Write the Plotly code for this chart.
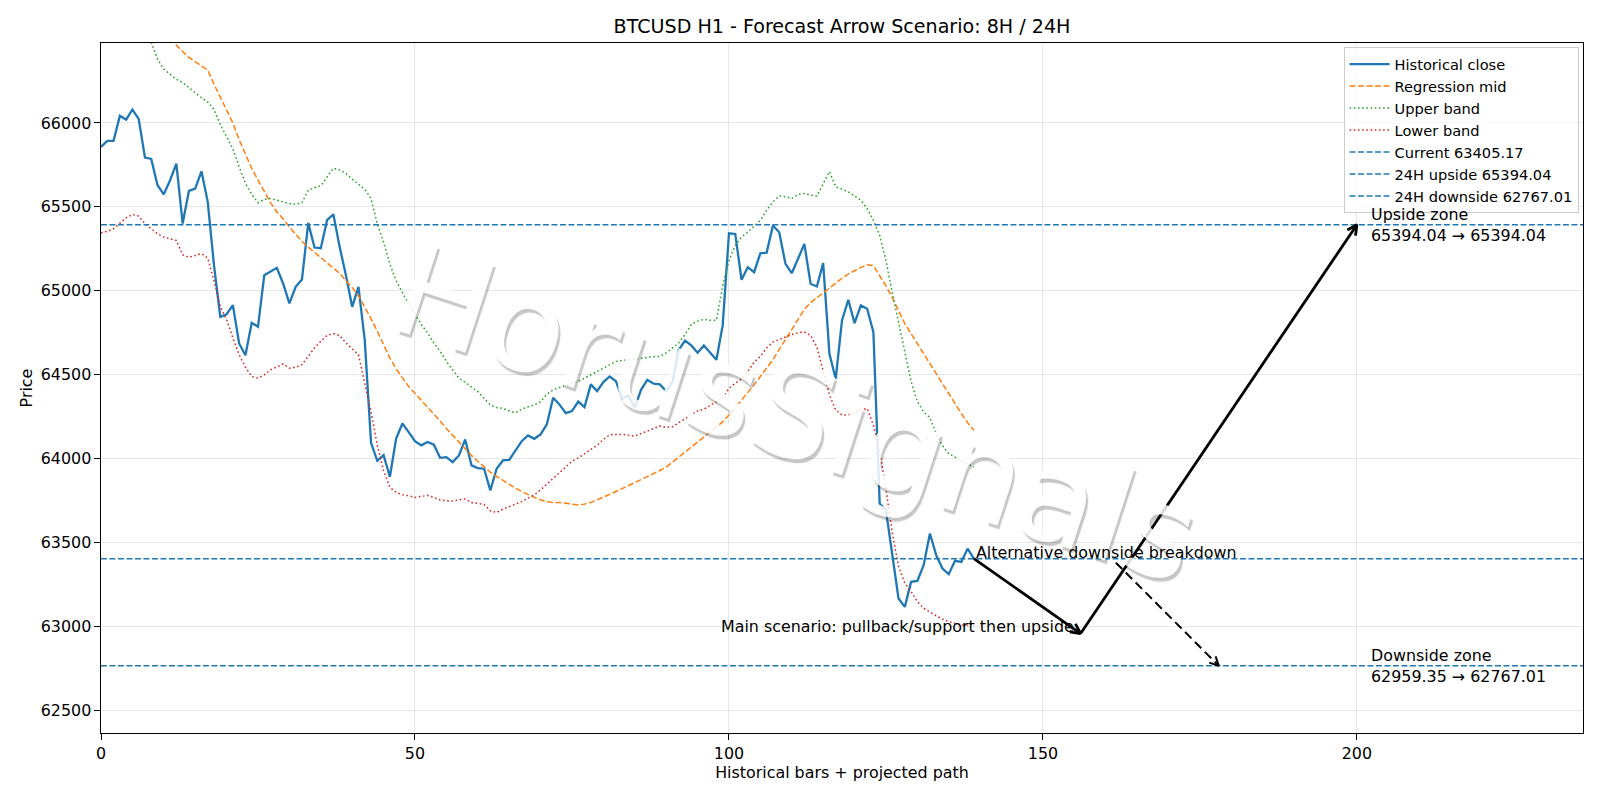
import math
import plotly.graph_objects as go

# ---------------- data ----------------
close = [65857, 65893, 65893, 66042, 66020, 66080, 66024, 65794, 65786, 65629,
         65575, 65659, 65758, 65401, 65595, 65609, 65712, 65530, 65150, 64845,
         64861, 64915, 64687, 64617, 64810, 64786, 65093, 65113, 65137, 65044,
         64925, 65024, 65067, 65405, 65258, 65254, 65421, 65456, 65262, 65093,
         64905, 65024, 64706, 64095, 63988, 64022, 63893, 64121, 64210, 64159,
         64105, 64080, 64100, 64084, 64006, 64010, 63980, 64020, 64115, 63961,
         63945, 63941, 63812, 63941, 63990, 63994, 64050, 64105, 64139, 64119,
         64145, 64205, 64363, 64324, 64272, 64284, 64341, 64308, 64443, 64403,
         64457, 64490, 64462, 64357, 64377, 64304, 64411, 64470, 64447, 64443,
         64403, 64457, 64649, 64704, 64675, 64632, 64675, 64635, 64590, 64794,
         65343, 65339, 65066, 65141, 65111, 65224, 65228, 65389, 65349, 65161,
         65105, 65191, 65280, 65042, 65026, 65165, 64625, 64477, 64824, 64947,
         64808, 64913, 64893, 64754, 63733, 63693, 63436, 63168, 63118, 63267,
         63273, 63366, 63555, 63426, 63346, 63313, 63392, 63386, 63465, 63405.17]

mid_start = 10
mid = [66540, 66500, 66460, 66425, 66390, 66365, 66340, 66315, 66230, 66150,
       66070, 66000, 65900, 65810, 65730, 65660, 65590, 65525, 65470, 65430,
       65380, 65335, 65295, 65260, 65230, 65200, 65170, 65135, 65105, 65060,
       65020, 64970, 64905, 64835, 64760, 64680, 64600, 64535, 64480, 64430,
       64390, 64350, 64310, 64270, 64225, 64180, 64140, 64100, 64055, 64020,
       63985, 63950, 63920, 63895, 63870, 63845, 63825, 63805, 63785, 63770,
       63755, 63745, 63740, 63740, 63735, 63728, 63725, 63730, 63740, 63755,
       63770, 63788, 63805, 63822, 63840, 63858, 63875, 63893, 63912, 63930,
       63950, 63980, 64010, 64040, 64070, 64100, 64130, 64160, 64190, 64220,
       64260, 64305, 64345, 64390, 64440, 64490, 64540, 64590, 64650, 64710,
       64770, 64830, 64890, 64930, 64960, 64985, 65015, 65045, 65075, 65100,
       65122, 65140, 65155, 65150, 65090, 65030, 64960, 64880, 64805, 64745,
       64685, 64625, 64570, 64510, 64450, 64390, 64330, 64270, 64215, 64170]

upper_start = 8
upper = [66480, 66380, 66320, 66290, 66260, 66240, 66210, 66175, 66150, 66125,
         66080, 65990, 65920, 65845, 65740, 65640, 65575, 65525, 65545, 65550,
         65540, 65530, 65520, 65515, 65525, 65600, 65615, 65625, 65680, 65730,
         65720, 65700, 65665, 65635, 65605, 65550, 65400, 65290, 65160, 65060,
         64990, 64920, 64860, 64800, 64750, 64690, 64640, 64580, 64530, 64480,
         64455, 64425, 64400, 64360, 64320, 64305, 64300, 64285, 64274, 64295,
         64310, 64320, 64340, 64385, 64410, 64425, 64435, 64450, 64462, 64480,
         64500, 64520, 64545, 64565, 64580, 64585, 64590, 64595, 64600, 64605,
         64608, 64610, 64630, 64660, 64690, 64740, 64800, 64820, 64830, 64825,
         64825, 65030, 65180, 65270, 65320, 65350, 65385, 65420, 65480, 65530,
         65565, 65560, 65550, 65575, 65580, 65570, 65565, 65640, 65710, 65620,
         65605, 65590, 65565, 65540, 65490, 65420, 65330, 65180, 64990, 64810,
         64630, 64460, 64340, 64280, 64245, 64150, 64080, 64030, 64010, 63990,
         63970, 63950]

lower = [65345, 65355, 65370, 65400, 65435, 65455, 65445, 65400, 65370, 65340,
         65320, 65310, 65300, 65215, 65200, 65210, 65222, 65195, 65060, 64905,
         64830, 64720, 64620, 64545, 64490, 64480, 64500, 64530, 64550, 64565,
         64540, 64545, 64560, 64610, 64660, 64700, 64735, 64745, 64735, 64690,
         64655, 64620, 64450, 64280, 64080, 63930, 63830, 63800, 63785, 63780,
         63770, 63775, 63782, 63770, 63755, 63750, 63748, 63755, 63760, 63740,
         63732, 63728, 63690, 63680, 63700, 63715, 63730, 63745, 63765, 63785,
         63815, 63850, 63885, 63915, 63950, 63985, 64005, 64030, 64055, 64080,
         64115, 64143, 64145, 64145, 64140, 64135, 64150, 64165, 64180, 64195,
         64188, 64190, 64215, 64240, 64265, 64285, 64295, 64320, 64340, 64360,
         64420, 64450, 64475, 64520, 64575, 64610, 64660, 64695, 64712, 64725,
         64740, 64750, 64755, 64735, 64665, 64520, 64380, 64290, 64260, 64262,
         64270, 64290, 64300, 64200, 64050, 63820, 63560, 63360, 63260, 63210,
         63150, 63110, 63085, 63065, 63045, 63030, 63020, 63010, 63010, 63020]

current = 63405.17
up_target = 65394.04
down_target = 62767.01
pullback = 62959.35
pivot_bar = 156
up_bar = 200
alt_bar = 178
zone_label_bar = 202

x_ticks = [0, 50, 100, 150, 200]
y_ticks = [62500, 63000, 63500, 64000, 64500, 65000, 65500, 66000]

# ---------------- layout constants ----------------
W, H = 1600, 800
ML, MR, MT, MB = 101, 17, 43, 67
X_RANGE = [0, 236]
Y_RANGE = [62367, 66476]
SX = (W - ML - MR) / (X_RANGE[1] - X_RANGE[0])
SY = (H - MT - MB) / (Y_RANGE[1] - Y_RANGE[0])

BLUE, ORANGE, GREEN, RED = "#1f77b4", "#ff7f0e", "#2ca02c", "#d62728"
FONT = "DejaVu Sans"
FS = 15.9
LEG_FS = 14.6
DASH = "5.9px,2.6px"
DOT = "1.6px,2.6px"


def arrow_head(x0, y0, x1, y1, length=11, ang=26.6):
    dx, dy = (x1 - x0) * SX, (y1 - y0) * SY
    n = math.hypot(dx, dy)
    ux, uy = -dx / n, -dy / n
    xs, ys = [], []
    for s in (1, -1):
        a = math.radians(s * ang)
        wx = ux * math.cos(a) - uy * math.sin(a)
        wy = ux * math.sin(a) + uy * math.cos(a)
        xs.append(x1 + wx * length / SX)
        ys.append(y1 + wy * length / SY)
    return [xs[0], x1, xs[1]], [ys[0], y1, ys[1]]


fig = go.Figure()

last_bar = len(close) - 1
fig.add_trace(go.Scatter(x=list(range(len(close))), y=close, mode="lines",
                         name="Historical close", legendgroup="a",
                         line=dict(color=BLUE, width=2.3)))
fig.add_trace(go.Scatter(x=list(range(mid_start, mid_start + len(mid))), y=mid,
                         mode="lines", name="Regression mid", legendgroup="b",
                         line=dict(color=ORANGE, width=1.5, dash=DASH)))
fig.add_trace(go.Scatter(x=list(range(upper_start, upper_start + len(upper))), y=upper,
                         mode="lines", name="Upper band", legendgroup="c",
                         line=dict(color=GREEN, width=1.5, dash=DOT)))
fig.add_trace(go.Scatter(x=list(range(len(lower))), y=lower,
                         mode="lines", name="Lower band", legendgroup="d",
                         line=dict(color=RED, width=1.5, dash=DOT)))
for i, (lbl, val) in enumerate([("Current", current), ("24H upside", up_target),
                                ("24H downside", down_target)]):
    fig.add_trace(go.Scatter(x=X_RANGE, y=[val, val], mode="lines",
                             name=f"{lbl} {val:.2f}", legendgroup="h%d" % i,
                             line=dict(color=BLUE, width=1.5, dash=DASH)))

# main scenario arrows
ARW = dict(color="black", width=2.8)
segs = [((last_bar, current), (pivot_bar, pullback)),
        ((pivot_bar, pullback), (up_bar, up_target))]
for (x0, y0), (x1, y1) in segs:
    fig.add_trace(go.Scatter(x=[x0, x1], y=[y0, y1], mode="lines", line=ARW,
                             showlegend=False, hoverinfo="skip"))
    hx, hy = arrow_head(x0, y0, x1, y1)
    fig.add_trace(go.Scatter(x=hx, y=hy, mode="lines", line=ARW,
                             showlegend=False, hoverinfo="skip"))

# alternative arrow, starting where it leaves the label box
alt_text_w = 259 / SX
cx, cy = last_bar + alt_text_w / 2, current + 8.5 / SY
exit_y = current - 4 / SY
t = (cy - exit_y) / (cy - down_target)
ax0, ay0 = cx + t * (alt_bar - cx), exit_y
fig.add_trace(go.Scatter(x=[ax0, alt_bar], y=[ay0, down_target], mode="lines",
                         line=dict(color="black", width=2, dash="9px,5px"),
                         showlegend=False, hoverinfo="skip"))
hx, hy = arrow_head(ax0, ay0, alt_bar, down_target, length=10)
fig.add_trace(go.Scatter(x=hx, y=hy, mode="lines", line=dict(color="black", width=2),
                         showlegend=False, hoverinfo="skip"))

annotations = [
    dict(x=110.8, y=64270, xref="x", yref="y", text="HorusSignals", showarrow=False,
         textangle=18, opacity=0.85,
         font=dict(family=FONT, size=128, color="white",
                   shadow="3px 3px 1px rgba(0,0,0,0.26)")),
    dict(x=last_bar, y=current, xref="x", yref="y", text="Alternative downside breakdown",
         showarrow=False, xanchor="left", yanchor="bottom", yshift=-5,
         font=dict(family=FONT, size=FS, color="black")),
    dict(x=pivot_bar - 5 / SX, y=pullback, xref="x", yref="y",
         text="Main scenario: pullback/support then upside",
         showarrow=False, xanchor="right", yanchor="bottom", yshift=-4,
         font=dict(family=FONT, size=FS, color="black")),
    dict(x=zone_label_bar, y=up_target, xref="x", yref="y",
         text=f"Upside zone<br>{up_target:.2f} → {up_target:.2f}",
         showarrow=False, xanchor="left", yanchor="middle", align="left",
         font=dict(family=FONT, size=FS, color="black")),
    dict(x=zone_label_bar, y=down_target, xref="x", yref="y",
         text=f"Downside zone<br>{pullback:.2f} → {down_target:.2f}",
         showarrow=False, xanchor="left", yanchor="middle", align="left",
         font=dict(family=FONT, size=FS, color="black")),
]

axis_common = dict(showline=True, mirror=True, linecolor="black", linewidth=1.1,
                   ticks="outside", ticklen=5.5, tickwidth=1.1, tickcolor="black",
                   showgrid=True, gridcolor="rgba(176,176,176,0.3)", gridwidth=1,
                   zeroline=False, tickfont=dict(family=FONT, size=FS, color="black"))

fig.update_layout(
    width=W, height=H,
    margin=dict(l=ML, r=MR, t=MT, b=MB),
    paper_bgcolor="white", plot_bgcolor="white",
    font=dict(family=FONT, size=FS, color="black"),
    title=dict(text="BTCUSD H1 - Forecast Arrow Scenario: 8H / 24H",
               x=(ML + (W - ML - MR) / 2) / W, xanchor="center",
               y=1 - 26 / H, yanchor="middle",
               font=dict(family=FONT, size=19.1, color="black")),
    xaxis=dict(range=X_RANGE, tickvals=x_ticks, tickformat="d",
               title=dict(text="Historical bars + projected path", standoff=4,
                          font=dict(family=FONT, size=FS, color="black")),
               **axis_common),
    yaxis=dict(range=Y_RANGE, tickvals=y_ticks, tickformat="d",
               title=dict(text="Price", standoff=4,
                          font=dict(family=FONT, size=FS, color="black")),
               **axis_common),
    legend=dict(x=0.997, y=0.994, xanchor="right", yanchor="top",
                bgcolor="rgba(255,255,255,0.8)", bordercolor="#cccccc", borderwidth=1,
                itemwidth=40,
                font=dict(family=FONT, size=LEG_FS, color="black"), tracegroupgap=0),
    annotations=annotations,
    showlegend=True,
)

fig.write_html("out.html")
